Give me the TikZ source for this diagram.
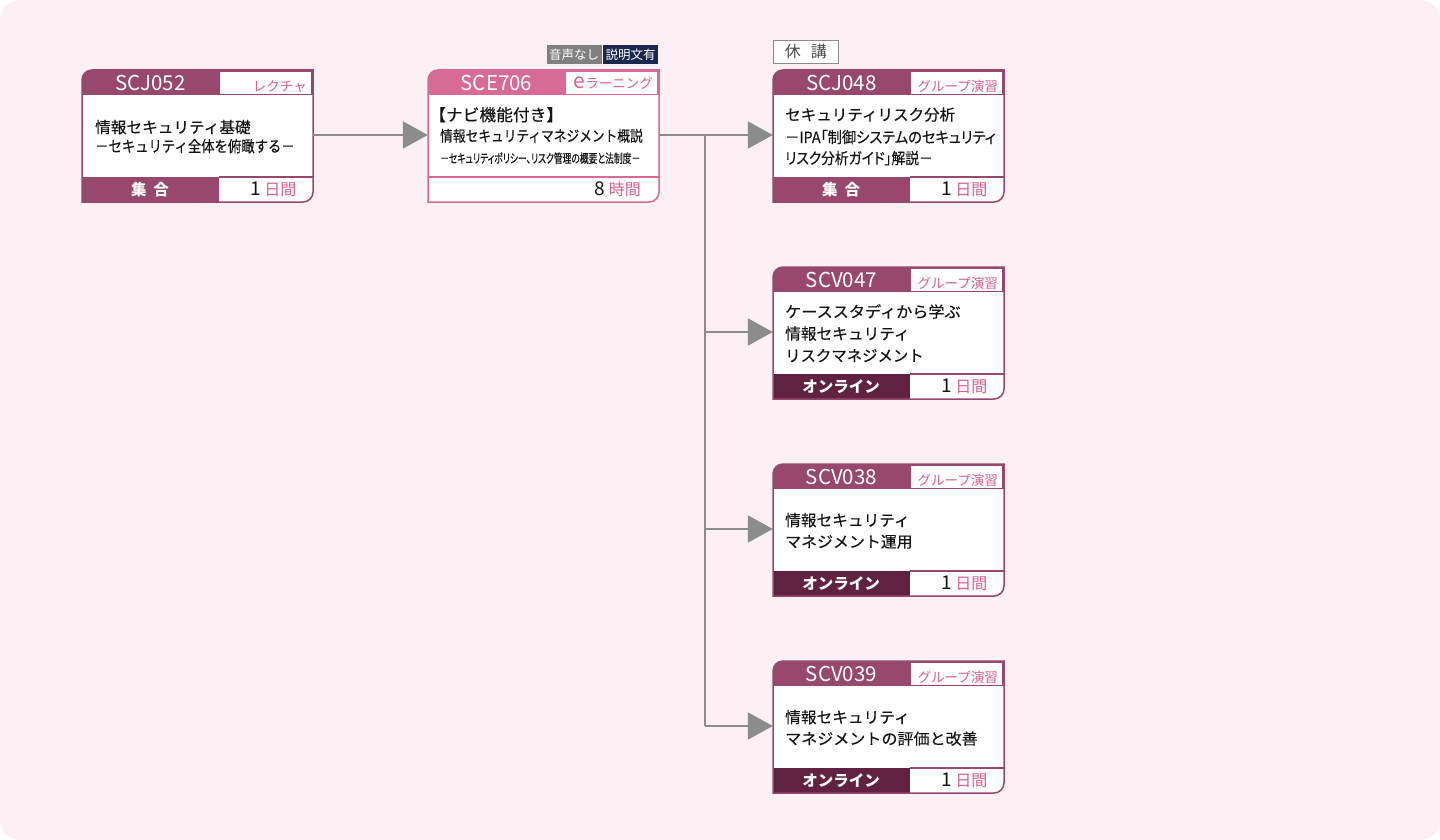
\documentclass[tikz,border=0pt]{standalone}
\usepackage{fontspec}
\setmainfont{Noto Sans CJK JP}
\usepackage{graphicx}
\usetikzlibrary{arrows.meta}

\definecolor{bgpink}{RGB}{252,240,244}
\definecolor{cdark}{RGB}{152,72,108}
\definecolor{cdeep}{RGB}{96,34,64}
\definecolor{cpink}{RGB}{216,106,150}
\definecolor{tpink}{RGB}{214,96,146}
\definecolor{agray}{RGB}{140,140,140}
\definecolor{bgray}{RGB}{128,128,128}
\definecolor{bnavy}{RGB}{28,38,78}
\definecolor{btext}{RGB}{20,20,20}

\newcommand{\fs}[1]{\fontsize{#1}{#1}\selectfont}
\newcommand{\fitw}[2]{\resizebox{#1pt}{\height}{#2}}
\newcommand{\pal}{\addfontfeatures{RawFeature=+palt}}
\newcommand{\cardclip}[2]{\clip (#1,#2+132) -- (#1,#2+10) arc[start angle=180,end angle=270,radius=10] -- (#1+231,#2) -- (#1+231,#2+122) arc[start angle=0,end angle=90,radius=10] -- cycle;}
\newcommand{\cardedge}[3]{\draw[#3,line width=1.5pt] (#1,#2+132) -- (#1,#2+10) arc[start angle=180,end angle=270,radius=10] -- (#1+231,#2) -- (#1+231,#2+122) arc[start angle=0,end angle=90,radius=10] -- cycle;}
\newcommand{\daysone}{{\fs{19}1}\hspace{3.5pt}{\color{tpink}\fs{16}日間}}
% #1 name, #2 x, #3 y, #4 code, #5 tag, #6 foot colour, #7 foot text
\newcommand{\stdcard}[7]{%
  \begin{scope}
    \cardclip{#2}{#3}
    \fill[white] (#2,#3) rectangle (#2+231,#3+132);
    \fill[cdark] (#2,#3) rectangle (#2+231,#3+25);
    \fill[#6] (#2,#3+107) rectangle (#2+137,#3+132);
  \end{scope}
  \fill[white] (#2+138,#3+2) rectangle (#2+229,#3+24);
  \draw[cdark,line width=1.2pt] (#2+137,#3+107) -- (#2+231,#3+107);
  \cardedge{#2}{#3}{cdark}
  \node[cardbox] (#1) at (#2+115.5,#3+65) {};
  \node[codetext] (#1-code) at (#2+68.5,#3+12.5) {#4};
  \node[tagtext] (#1-tag) at (#2+225,#3+16.5) {#5};
  \node[foottext] (#1-foot) at (#2+68,#3+119.5) {#7};
  \node[daytext] (#1-days) at (#2+214.5,#3+119.5) {\daysone};
}
\newcommand{\bline}[5]{\node[bodyline] (#1) at (#2,#3) {\fitw{#4}{#5}};}

\begin{document}
\begin{tikzpicture}[x=1pt,y=-1pt,
  conn/.style={draw=agray,line width=2pt,-{Triangle[length=25pt,width=27pt]}},
  trunk/.style={draw=agray,line width=2pt},
  cardbox/.style={minimum width=231pt,minimum height=130pt,inner sep=0pt},
  codetext/.style={text=white,font=\fs{20.5},inner sep=0pt},
  tagtext/.style={text=tpink,font=\fs{13.5},inner sep=0pt,anchor=east},
  foottext/.style={text=white,font=\bfseries\fs{15.5},inner sep=0pt},
  daytext/.style={inner sep=0pt,anchor=east,text=btext},
  bodyline/.style={inner sep=0pt,anchor=base west,text=btext,font=\fs{15.5}\addfontfeatures{FakeBold=0.25}},
  badge/.style={text=white,font=\fs{12.5},minimum height=19pt,inner sep=0pt},
]
\useasboundingbox (0,0) rectangle (1440,840);
\fill[bgpink,rounded corners=20pt] (0,0) rectangle (1440,840);

% ---- card 1
\stdcard{c1}{82}{70}{SCJ052}{レクチャ}{cdark}{集\hspace{7pt}合}
\bline{c1-l1}{95}{133}{155.5}{情報セキュリティ基礎}
\bline{c1-l2}{95}{152}{199.5}{－セキュリティ全体を俯瞰する－}

% ---- card 2 (e-learning)
\begin{scope}
  \cardclip{428}{70}
  \fill[white] (428,70) rectangle (659,202);
  \fill[cpink] (428,70) rectangle (659,95);
\end{scope}
\fill[white] (566,72) rectangle (657,94);
\draw[cpink,line width=1.2pt] (428,177) -- (659,177);
\cardedge{428}{70}{cpink}
\node[cardbox] (c2) at (543.5,135) {};
\node[codetext] (c2-code) at (496.5,82.5) {SCE706};
\node[tagtext] (c2-tag) at (653,83) {{\fs{21}e}ラーニング};
\node[daytext] (c2-days) at (641,189.5) {{\fs{19}8}\hspace{3.5pt}{\color{tpink}\fs{16}時間}};
\node[bodyline,font=\fs{16.5}\addfontfeatures{FakeBold=0.25}] (c2-l1) at (429,121) {\fitw{134}{【ナビ機能付き】}};
\node[bodyline,font=\fs{15}\addfontfeatures{FakeBold=0.25}] (c2-l2) at (440,141.5) {\fitw{202.5}{情報セキュリティマネジメント概説}};
\node[bodyline,font=\fs{12.5}\addfontfeatures{FakeBold=0.25}] (c2-l3) at (440,163) {\fitw{200}{\pal －セキュリティポリシー、リスク管理の概要と法制度－}};
\node[badge,fill=bgray,minimum width=55pt] (b1) at (574.2,54.5) {音声なし};
\node[badge,fill=bnavy,minimum width=55.6pt] (b2) at (630.5,54.5) {説明文有};

% ---- card 3
\node[draw=agray,fill=white,line width=0.8pt,minimum width=65pt,minimum height=23pt,inner sep=0pt,font=\fs{16},text=black!70] (kyuko) at (805.8,51.7) {休\hspace{10pt}講};
\stdcard{c3}{773}{70}{SCJ048}{グループ演習}{cdark}{集\hspace{7pt}合}
\bline{c3-l1}{785}{120.5}{170}{セキュリティリスク分析}
\bline{c3-l2}{785}{143}{210.5}{\pal －IPA「制御システムのセキュリティ}
\bline{c3-l3}{785}{164}{147.5}{\pal リスク分析ガイド」解説－}

% ---- card 4
\stdcard{c4}{773}{267}{SCV047}{グループ演習}{cdeep}{オンライン}
\bline{c4-l1}{785}{317.5}{175.5}{ケーススタディから学ぶ}
\bline{c4-l2}{785}{339.5}{124.5}{情報セキュリティ}
\bline{c4-l3}{785}{361.5}{138.5}{リスクマネジメント}

% ---- card 5
\stdcard{c5}{773}{464}{SCV038}{グループ演習}{cdeep}{オンライン}
\bline{c5-l1}{785}{526}{124.5}{情報セキュリティ}
\bline{c5-l2}{785}{547.5}{127.5}{マネジメント運用}

% ---- card 6
\stdcard{c6}{773}{661}{SCV039}{グループ演習}{cdeep}{オンライン}
\bline{c6-l1}{785}{723}{124.5}{情報セキュリティ}
\bline{c6-l2}{785}{744.5}{192.5}{マネジメントの評価と改善}

% ---- connectors
\coordinate (br) at (705,0);
\draw[conn] (c1.east) -- (c2.west);
\draw[conn] (c2.east) -- (c3.west);
\draw[trunk] (br |- c2.east) -- (br |- c6.west);
\draw[conn] (br |- c4.west) -- (c4.west);
\draw[conn] (br |- c5.west) -- (c5.west);
\draw[conn] (br |- c6.west) -- (c6.west);
\end{tikzpicture}
\end{document}
